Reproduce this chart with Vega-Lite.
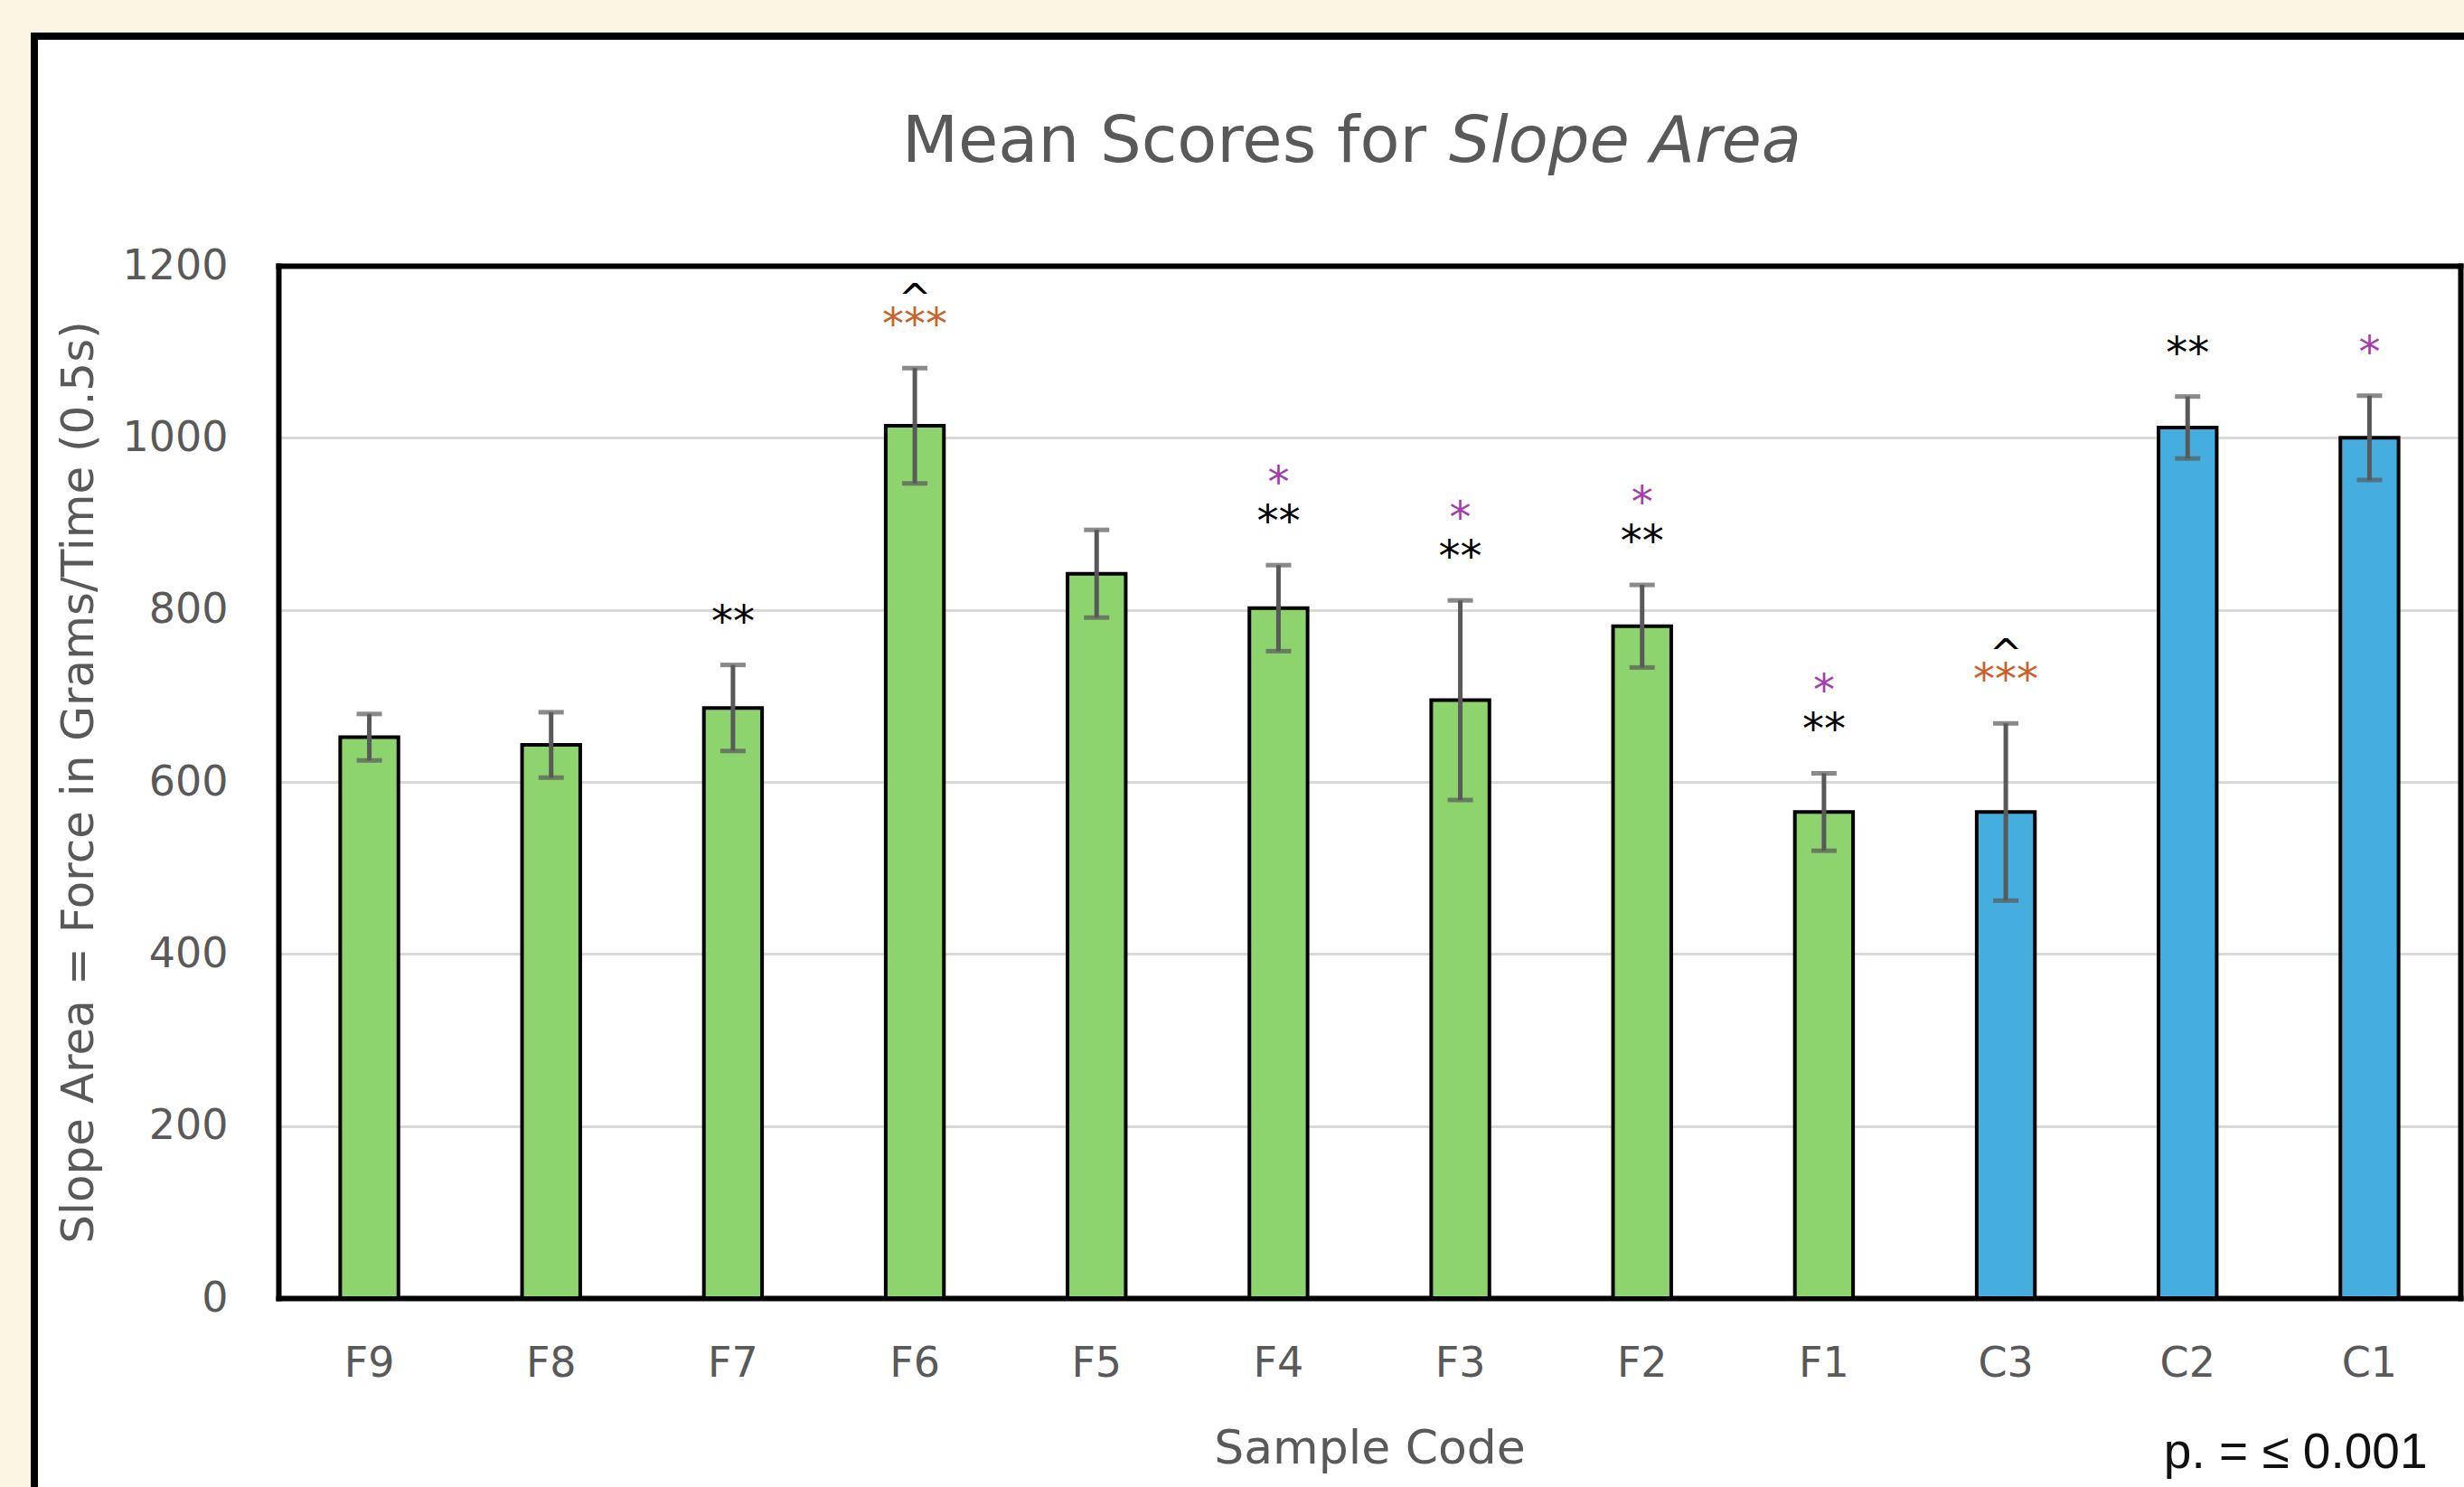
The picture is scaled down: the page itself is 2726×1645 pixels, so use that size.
{
  "$schema": "https://vega.github.io/schema/vega-lite/v6.json",
  "width": 2700,
  "height": 1625,
  "autosize": {"type": "none"},
  "padding": {"left": 38, "top": 40, "right": -12, "bottom": -20},
  "background": "#FBF5E3",
  "config": {
    "view": {"fill": "#FFFFFF", "stroke": "#000000", "strokeWidth": 8},
    "axis": {
      "labelFont": "DejaVu Sans",
      "labelFontSize": 46,
      "labelColor": "#595959",
      "titleFont": "DejaVu Sans",
      "titleFontWeight": "normal",
      "titleColor": "#595959",
      "ticks": false,
      "tickSize": 0,
      "domainColor": "#000000",
      "domainWidth": 6,
      "domainCap": "square",
      "gridColor": "#D9D9D9",
      "gridWidth": 3
    }
  },
  "title": {
    "text": "Mean Scores for\u2003\u2003\u2003\u2003\u2003\u2002\u2005\u200B",
    "subtitle": "\u200B\u2003\u2003\u2003\u2003\u2003\u2003\u2003\u2003\u2005\u2006Slope Area",
    "frame": "group",
    "anchor": "middle",
    "align": "center",
    "baseline": "top",
    "dx": 107,
    "offset": -154,
    "font": "DejaVu Sans",
    "fontSize": 72,
    "fontWeight": "normal",
    "color": "#595959",
    "subtitleFont": "DejaVu Sans",
    "subtitleFontSize": 72,
    "subtitleFontStyle": "italic",
    "subtitleFontWeight": "normal",
    "subtitleColor": "#595959",
    "subtitlePadding": -72
  },
  "data": {
    "values": [
      {"code": "F9", "group": "Formulation", "mean": 652, "lo": 625, "hi": 679, "sig1": "", "sig2": ""},
      {"code": "F8", "group": "Formulation", "mean": 643, "lo": 605, "hi": 681, "sig1": "", "sig2": ""},
      {"code": "F7", "group": "Formulation", "mean": 686, "lo": 636, "hi": 736, "sig1": "**", "sig2": ""},
      {"code": "F6", "group": "Formulation", "mean": 1014, "lo": 947, "hi": 1081, "sig1": "***", "sig2": "^"},
      {"code": "F5", "group": "Formulation", "mean": 842, "lo": 791, "hi": 893, "sig1": "", "sig2": ""},
      {"code": "F4", "group": "Formulation", "mean": 802, "lo": 752, "hi": 852, "sig1": "**", "sig2": "*"},
      {"code": "F3", "group": "Formulation", "mean": 695, "lo": 579, "hi": 811, "sig1": "**", "sig2": "*"},
      {"code": "F2", "group": "Formulation", "mean": 781, "lo": 733, "hi": 829, "sig1": "**", "sig2": "*"},
      {"code": "F1", "group": "Formulation", "mean": 565, "lo": 520, "hi": 610, "sig1": "**", "sig2": "*"},
      {"code": "C3", "group": "Control", "mean": 565, "lo": 462, "hi": 668, "sig1": "***", "sig2": "^"},
      {"code": "C2", "group": "Control", "mean": 1012, "lo": 976, "hi": 1048, "sig1": "**", "sig2": ""},
      {"code": "C1", "group": "Control", "mean": 1000, "lo": 951, "hi": 1049, "sig1": "*", "sig2": ""}
    ]
  },
  "layer": [
    {
      "encoding": {
        "x": {
          "field": "code",
          "type": "nominal",
          "sort": null,
          "scale": {"range": [270, 2684], "paddingInner": 0.68, "paddingOuter": 0.34},
          "axis": {
            "orient": "bottom",
            "offset": -229,
            "title": "Sample Code",
            "titleFontSize": 52,
            "titlePadding": 46,
            "labelAngle": 0,
            "labelPadding": 50,
            "grid": false
          }
        }
      },
      "layer": [
        {
          "mark": {"type": "bar", "stroke": "#000000", "strokeWidth": 4},
          "encoding": {
            "y": {
              "field": "mean",
              "type": "quantitative",
              "scale": {"domain": [0, 1200], "range": [1396, 254], "nice": false},
              "axis": {
                "orient": "left",
                "offset": -270,
                "title": "Slope Area = Force in Grams/Time (0.5s)",
                "titleFontSize": 50,
                "titlePadding": 22,
                "values": [0, 200, 400, 600, 800, 1000, 1200],
                "format": "d",
                "labelPadding": 56,
                "grid": true
              }
            },
            "fill": {
              "field": "group",
              "type": "nominal",
              "scale": {"domain": ["Formulation", "Control"], "range": ["#8DD46F", "#45AEDE"]},
              "legend": null
            }
          }
        },
        {
          "mark": {
            "type": "errorbar",
            "color": "#595959",
            "ticks": {"size": 28, "thickness": 5},
            "rule": {"strokeWidth": 5}
          },
          "encoding": {
            "y": {"field": "lo", "type": "quantitative", "title": "Slope Area = Force in Grams/Time (0.5s)"},
            "y2": {"field": "hi"}
          }
        }
      ]
    },
    {
      "encoding": {
        "x": {
          "field": "code",
          "type": "nominal",
          "sort": null,
          "axis": {
            "orient": "top",
            "offset": -254,
            "labels": false,
            "grid": false,
            "title": "p. = ≤ 0.001",
            "titleX": 2647,
            "titleY": 1329,
            "titleAlign": "right",
            "titleBaseline": "alphabetic",
            "titleAngle": 0,
            "titleFont": "Liberation Sans",
            "titleFontSize": 55,
            "titleColor": "#111111"
          }
        },
        "y": {
          "field": "hi",
          "type": "quantitative",
          "axis": {"orient": "right", "offset": -16, "labels": false, "grid": false, "title": null}
        }
      },
      "layer": [
        {
          "transform": [{"filter": "datum.sig1 !== ''"}],
          "mark": {"type": "text", "font": "DejaVu Sans", "fontSize": 48, "baseline": "alphabetic", "dy": -32},
          "encoding": {
            "text": {"field": "sig1"},
            "color": {"field": "sig1", "type": "nominal", "scale": {"domain": ["*", "**", "***", "^"], "range": ["#A23FAD", "#000000", "#C8622A", "#000000"]}, "legend": null}
          }
        },
        {
          "transform": [{"filter": "datum.sig2 === '*'"}],
          "mark": {"type": "text", "font": "DejaVu Sans", "fontSize": 48, "baseline": "alphabetic", "dy": -75},
          "encoding": {
            "text": {"field": "sig2"},
            "color": {"field": "sig2", "type": "nominal", "scale": {"domain": ["*", "**", "***", "^"], "range": ["#A23FAD", "#000000", "#C8622A", "#000000"]}, "legend": null}
          }
        },
        {
          "transform": [{"filter": "datum.sig2 === '^'"}],
          "mark": {"type": "text", "font": "DejaVu Sans", "fontSize": 44, "baseline": "alphabetic", "dy": -62},
          "encoding": {
            "text": {"field": "sig2"},
            "color": {"field": "sig2", "type": "nominal", "scale": {"domain": ["*", "**", "***", "^"], "range": ["#A23FAD", "#000000", "#C8622A", "#000000"]}, "legend": null}
          }
        }
      ]
    }
  ],
  "resolve": {"axis": {"x": "independent", "y": "independent"}}
}
